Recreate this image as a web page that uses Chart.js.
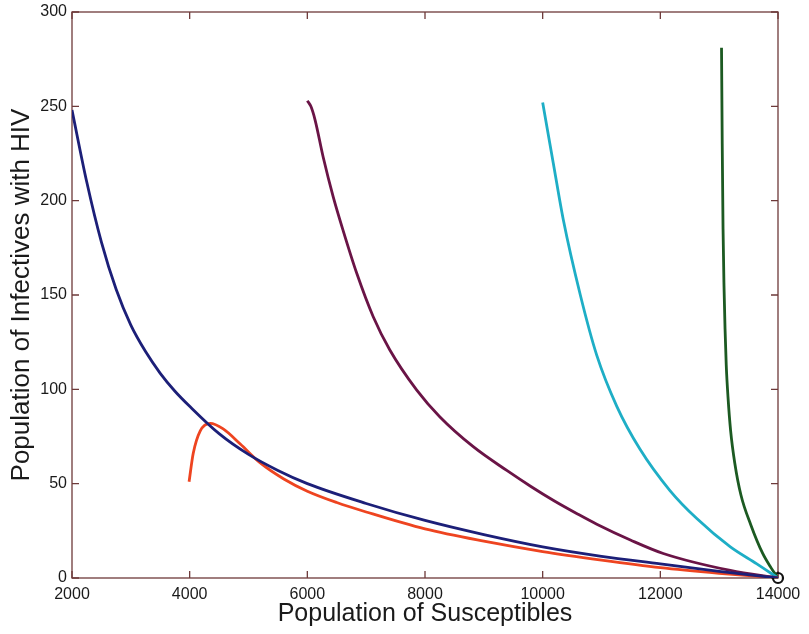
<!DOCTYPE html>
<html><head><meta charset="utf-8">
<script src="https://cdn.jsdelivr.net/npm/chart.js@4/dist/chart.umd.min.js"></script>
<style>html,body{margin:0;padding:0;background:#fff}</style>
</head><body>
<canvas id="c" width="809" height="634"></canvas>
<script>
// Susceptibles (x) and infectives (y) for each trajectory
const blueX   = [2000,2250,2500,2750,3000,3250,3500,3750,4000,4500,5000,5500,6000,7000,8000,9000,10000,11000,12000,13000,14000];
const blueY   = [248,210,178,153,134,120,108.5,99,91,76.5,65.5,57,50,39.5,30.5,23,16.5,11.5,7.5,3.5,0];
const redX    = [3990,4060,4180,4350,4570,4860,5200,5600,6000,6500,7000,8000,9000,10000,11000,12000,13000,14000];
const redY    = [51,66,78,82,79,71,61,52.5,46,40,35,26,19.5,14,9.5,5.5,2.5,0];
const purpleX = [6000,6060,6130,6270,6440,6610,6840,7120,7400,7860,8250,8820,9390,9800,10200,10600,10920,11500,12050,13190,14000];
const purpleY = [253,250,243,223,202,184,161.5,138.5,121,99.6,85.5,69.6,57,48.5,40.8,33.8,28.5,20,13,4,0];
const cyanX   = [10000,10180,10350,10640,10920,11260,11650,12160,12620,13190,13640,14000];
const cyanY   = [252,220,190,150,118,91,68.5,46.5,31.5,16.5,7.5,0];
const greenX  = [13040,13052,13066,13082,13100,13120,13150,13195,13265,13370,13540,13740,13880,14000];
const greenY  = [281,230,185,155,132,113,96,78,61,44,28,13,5.5,0];
const equilibriumX = [14000];
const equilibriumY = [0];
const xTicks = [2000,4000,6000,8000,10000,12000,14000];
const yTicks = [0,50,100,150,200,250,300];

const pts = (xs, ys) => xs.map((x, i) => ({x, y: ys[i]}));
const line = (xs, ys, color) => ({
  data: pts(xs, ys), showLine: true, borderColor: color, backgroundColor: color,
  borderWidth: 2.8, pointRadius: 0, cubicInterpolationMode: 'monotone', fill: false
});

const frame = {
  id: 'frame',
  beforeDatasetsDraw(chart) {
    const {ctx, chartArea: a, scales: {x, y}} = chart;
    ctx.save();
    ctx.strokeStyle = '#6e3a3a';
    ctx.lineWidth = 1.3;
    ctx.strokeRect(a.left, a.top, a.right - a.left, a.bottom - a.top);
    ctx.beginPath();
    xTicks.forEach(v => {
      const p = x.getPixelForValue(v);
      ctx.moveTo(p, a.bottom); ctx.lineTo(p, a.bottom - 7);
      ctx.moveTo(p, a.top); ctx.lineTo(p, a.top + 7);
    });
    yTicks.forEach(v => {
      const p = y.getPixelForValue(v);
      ctx.moveTo(a.left, p); ctx.lineTo(a.left + 7, p);
      ctx.moveTo(a.right, p); ctx.lineTo(a.right - 7, p);
    });
    ctx.stroke();
    ctx.restore();
  }
};

const fam = '"Liberation Sans", Arial, sans-serif';
const tickFont = {family: fam, size: 16};

new Chart(document.getElementById('c'), {
  type: 'scatter',
  data: {
    datasets: [
      line(blueX, blueY, '#1c1f78'),
      line(redX, redY, '#ee4420'),
      line(purpleX, purpleY, '#6a1446'),
      line(cyanX, cyanY, '#1eaec6'),
      line(greenX, greenY, '#1c5a22'),
      {data: pts(equilibriumX, equilibriumY), pointRadius: 5, pointBorderWidth: 2.2,
       pointBorderColor: '#111', pointBackgroundColor: 'rgba(0,0,0,0)', showLine: false, clip: false}
    ]
  },
  options: {
    responsive: false, animation: false,
    layout: {padding: {left: 6, right: 31, top: 12, bottom: 0}},
    plugins: {legend: {display: false}, tooltip: {enabled: false}},
    scales: {
      x: {
        type: 'linear', min: 2000, max: 14000,
        afterBuildTicks: s => { s.ticks = xTicks.map(v => ({value: v})); },
        afterFit: s => { s.height = 56; s.paddingLeft = 0; s.paddingRight = 0; },
        grid: {display: false, drawTicks: false}, border: {display: false},
        ticks: {color: '#1a1a1a', font: tickFont, padding: 7, maxRotation: 0, autoSkip: false,
                callback: v => String(v)},
        title: {display: true, text: 'Population of Susceptibles', color: '#1a1a1a',
                font: {family: fam, size: 25}, padding: {top: 0, bottom: 5}}
      },
      y: {
        type: 'linear', min: 0, max: 300,
        afterBuildTicks: s => { s.ticks = yTicks.map(v => ({value: v})); },
        afterFit: s => { s.width = 66; s.paddingTop = 0; s.paddingBottom = 0; },
        grid: {display: false, drawTicks: false}, border: {display: false},
        ticks: {color: '#1a1a1a', font: tickFont, padding: 5, autoSkip: false,
                callback: v => String(v)},
        title: {display: true, text: 'Population of Infectives with HIV', color: '#1a1a1a',
                font: {family: fam, size: 26}, padding: {top: 0, bottom: 0}}
      }
    }
  },
  plugins: [frame]
});
</script>
</body></html>
